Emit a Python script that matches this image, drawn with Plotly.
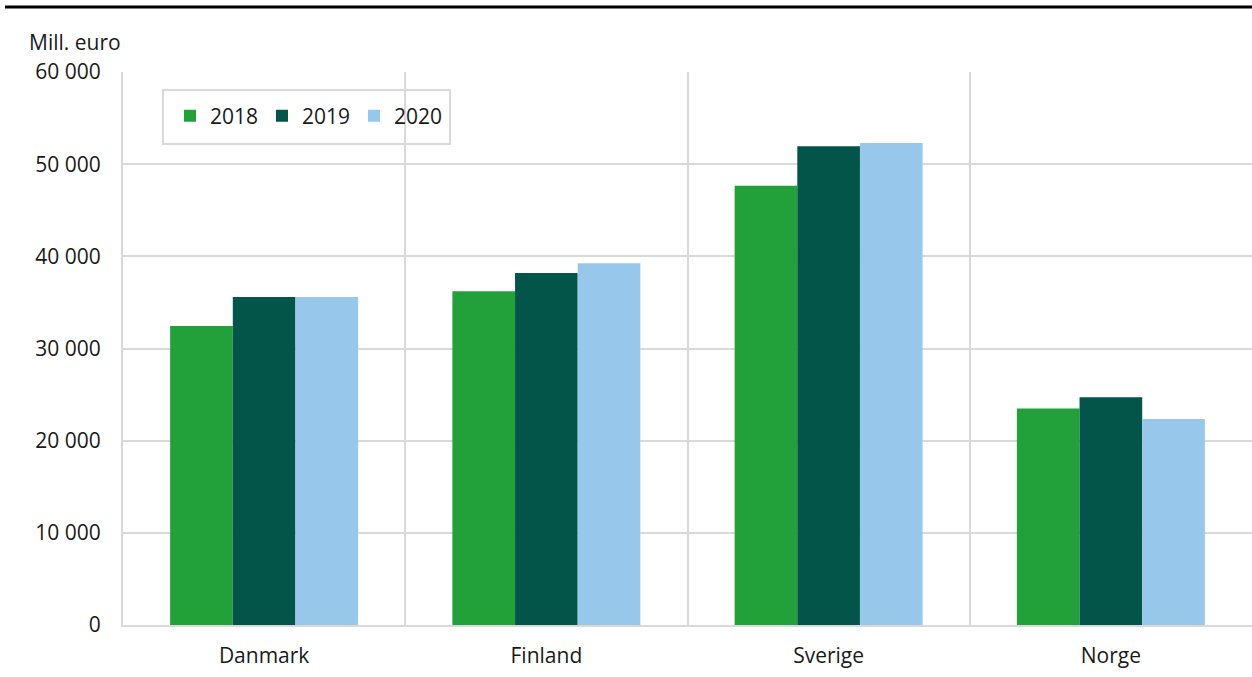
import plotly.graph_objects as go

# Countries and yearly values (million euro)
countries = ["Danmark", "Finland", "Sverige", "Norge"]
years = ["2018", "2019", "2020"]
values_2018 = [32450, 36200, 47650, 23500]
values_2019 = [35600, 38200, 51950, 24700]
values_2020 = [35600, 39250, 52300, 22350]
colors = ["#22a13a", "#03554a", "#97c8ec"]

y_ticks = [0, 10000, 20000, 30000, 40000, 50000, 60000]
y_tick_labels = ["0", "10 000", "20 000", "30 000", "40 000", "50 000", "60 000"]

FONT = "Open Sans"
FS = 21
TEXT = "#1a1a1a"
GRID = "#d9d9d9"

fig = go.Figure()
for year, vals, col in zip(years, [values_2018, values_2019, values_2020], colors):
    fig.add_trace(go.Bar(
        x=countries, y=vals, name=year,
        marker=dict(color=col, line=dict(width=0)),
    ))

W, H = 1252, 677
ml, mr, mt, mb = 123, 0, 72, 52
pw, ph = W - ml - mr, H - mt - mb

def px_x(p):
    return (p - ml) / pw

def px_y(p):
    return (H - mb - p) / ph

fig.update_layout(
    width=W, height=H,
    margin=dict(l=ml, r=mr, t=mt, b=mb, pad=0),
    paper_bgcolor="white", plot_bgcolor="white",
    font=dict(family=FONT, size=FS, color=TEXT),
    barmode="group", bargap=0.334, bargroupgap=0,
    showlegend=True,
    legend=dict(
        orientation="h", x=px_x(170), y=px_y(116), xanchor="left", yanchor="middle",
        bgcolor="rgba(0,0,0,0)", borderwidth=0,
        font=dict(family=FONT, size=FS, color=TEXT),
        entrywidth=47, itemclick=False,
    ),
    xaxis=dict(
        type="category", tickson="boundaries", showgrid=True, gridcolor=GRID, gridwidth=2,
        showline=True, linecolor=GRID, linewidth=2, ticks="", ticklabelstandoff=11,
        tickfont=dict(family=FONT, size=FS, color=TEXT),
    ),
    yaxis=dict(
        range=[0, 60000], tickvals=y_ticks, ticktext=y_tick_labels,
        showgrid=True, gridcolor=GRID, gridwidth=2, zeroline=False,
        showline=True, linecolor=GRID, linewidth=2, ticks="", ticklabelstandoff=16,
        tickfont=dict(family=FONT, size=FS, color=TEXT),
    ),
    shapes=[
        # heavy rule across the top
        dict(type="line", xref="paper", yref="paper",
             x0=px_x(5), x1=1, y0=px_y(7), y1=px_y(7),
             line=dict(color="black", width=3)),
        # legend frame
        dict(type="rect", xref="paper", yref="paper",
             x0=px_x(163), x1=px_x(450), y0=px_y(144), y1=px_y(90),
             line=dict(color=GRID, width=2), fillcolor="white", layer="below"),
    ],
    annotations=[
        dict(text="Mill. euro", xref="paper", yref="paper",
             x=px_x(27), y=px_y(42), xanchor="left", yanchor="middle",
             showarrow=False, font=dict(family=FONT, size=FS, color=TEXT)),
    ],
)

fig.write_html("out.html")
